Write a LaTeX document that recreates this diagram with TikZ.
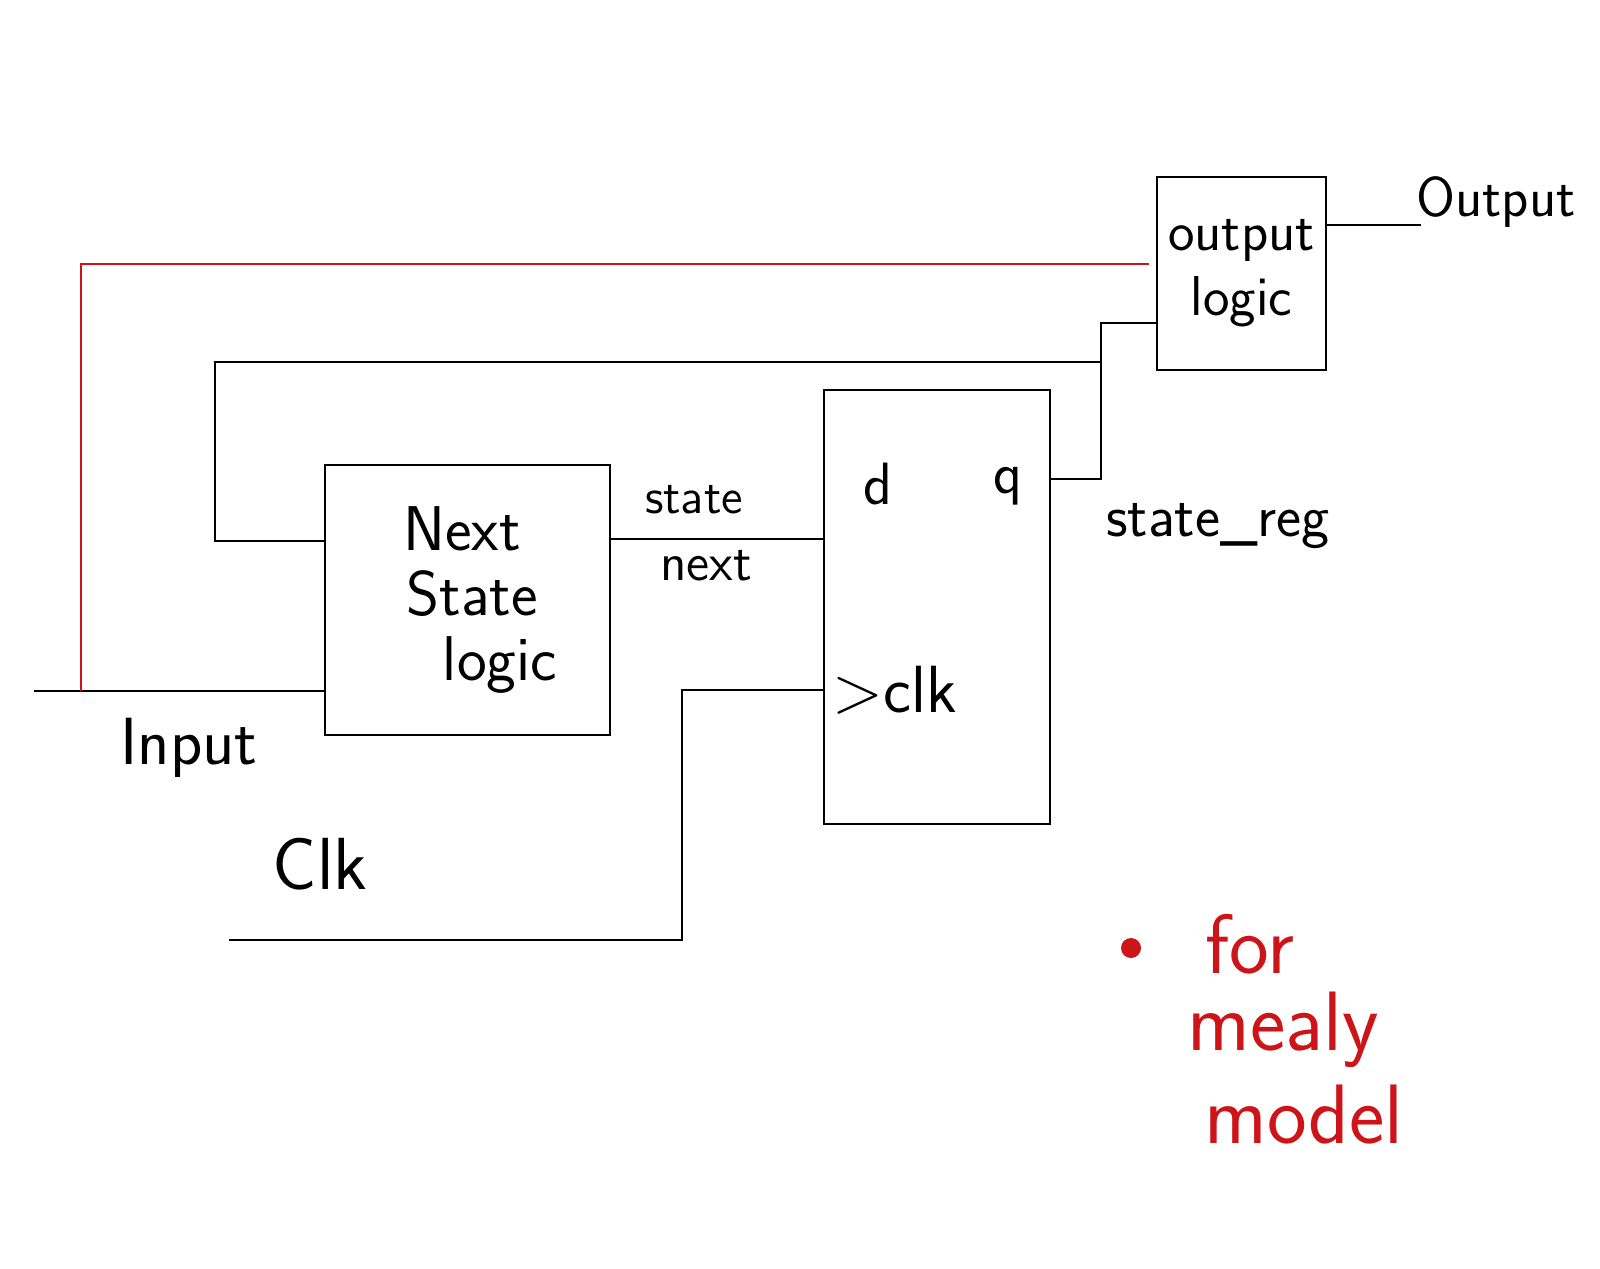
\documentclass[tikz,border=0pt]{standalone}
\usepackage{tikz}
\usetikzlibrary{positioning}
\definecolor{penred}{RGB}{205,20,25}
\tikzset{
    blockbox/.style={draw, semithick, inner sep=0pt, align=center},
    wire/.style={semithick},
    mealywire/.style={semithick, penred},
    hand/.style={font=\sffamily\fontsize{#1}{#1}\selectfont, inner sep=0pt},
    hand/.default=14
}

\begin{document}
\begin{tikzpicture}[x=0.1mm, y=-0.1mm]
			\useasboundingbox (0,0) rectangle (1600,1269);
			% blocks
			\node[blockbox, minimum width=28.5mm, minimum height=27mm] (nsl) at (467.5,600) {};
			\node[blockbox, minimum width=22.6mm, minimum height=43.4mm] (ff) at (937,607) {};
			\node[blockbox, minimum width=16.9mm, minimum height=19.3mm,
			      font=\sffamily\fontsize{16}{18.5}\selectfont] (olog) at (1241.5,273.5) {output\\logic};
			% next state logic text
			\node[hand=18, anchor=base] (nsl1) at (462,550) {Next};
			\node[hand=18, anchor=base] (nsl2) at (472,615) {State};
			\node[hand=18, anchor=base] (nsl3) at (500,680) {logic};
			% flip-flop pins
			\node[hand=17] (dpin) at (878,484) {d};
			\node[hand=17] (qpin) at (1008,486) {q};
			\node[hand=19, anchor=west] (clkpin) at (832,690) {\textgreater{}clk};
			% free wire ends
			\coordinate (inpin) at (34,691);
			\coordinate (clkin) at (229,940);
			\coordinate (outend) at (1421,225);
			\coordinate (fbtap) at (1101,362);
			\coordinate (redtap) at (81,691);
			% wires
			\draw[wire] (inpin) -- (nsl.west |- inpin);
			\draw[wire] (nsl.east |- 0,539) -- (ff.west |- 0,539);
			\draw[wire] (ff.east |- 0,479) -| (fbtap) |- (olog.west |- 0,323);
			\draw[wire] (fbtap) -- (215,362) |- (nsl.west |- 0,541);
			\draw[wire] (clkin) -| (682,690) -- (ff.west |- 0,690);
			\draw[wire] (olog.east |- outend) -- (outend);
			\draw[mealywire] ([xshift=-0.7mm]olog.west |- 0,264) -| (redtap);
			% labels
			\node[hand=16] (outlbl) at (1496,202) {Output};
			\node[hand=19] (inlbl) at (189,748) {Input};
			\node[hand=21] (clklbl) at (320,864) {Clk};
			\node[hand=14] (snlbl) at (694,500) {state};
			\node[hand=15] (nxlbl) at (706,566) {next};
			\node[hand=17] (reglbl) at (1218,526) {state\_reg};
			% note
			\fill[penred] (1131,948) circle (1mm);
			\node[hand=24, text=penred] (note1) at (1250,944) {for};
			\node[hand=24, text=penred] (note2) at (1283,1030) {mealy};
			\node[hand=24, text=penred] (note3) at (1304,1115) {model};
		\end{tikzpicture}
\end{document}
